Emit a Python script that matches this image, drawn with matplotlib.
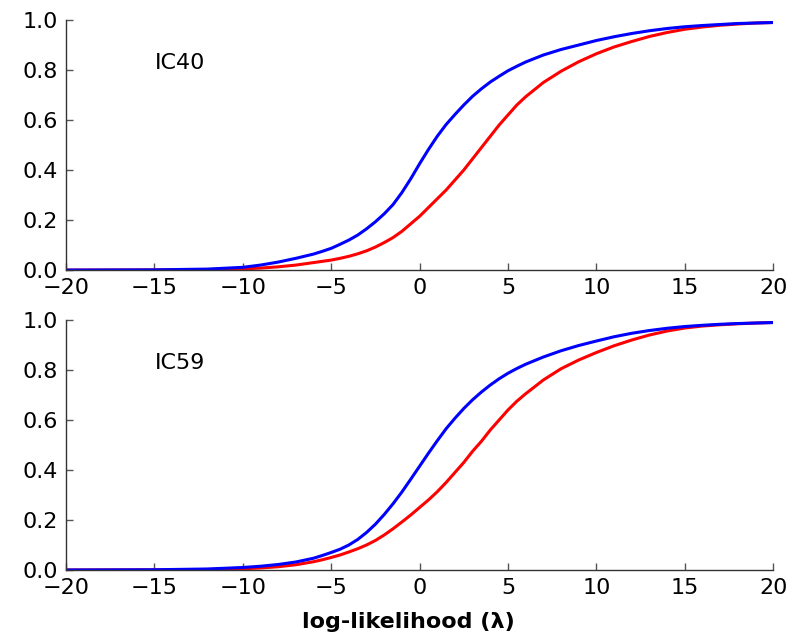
import matplotlib
matplotlib.use("Agg")
import matplotlib.pyplot as plt

# log-likelihood grid and cumulative fractions
lam = [-20, -15, -12, -10, -9, -8, -7,
       -6, -5.5, -5, -4.5, -4, -3.5, -3, -2.5, -2, -1.5, -1, -0.5,
       0, 0.5, 1, 1.5, 2, 2.5, 3, 3.5, 4, 4.5, 5, 5.5, 6,
       7, 8, 9, 10, 11, 12, 13, 14, 15, 16, 17, 18, 19, 20]

ic40_blue = [0.0, 0.001, 0.004, 0.011, 0.02, 0.032, 0.047,
             0.064, 0.075, 0.087, 0.103, 0.12, 0.14, 0.165, 0.193, 0.225, 0.262, 0.31, 0.365,
             0.425, 0.482, 0.535, 0.582, 0.622, 0.66, 0.695, 0.725, 0.752, 0.775, 0.797, 0.815, 0.832,
             0.86, 0.882, 0.90, 0.918, 0.933, 0.946, 0.957, 0.966, 0.973, 0.978, 0.982, 0.986, 0.988, 0.99]
ic40_red = [0.0, 0.0005, 0.002, 0.005, 0.008, 0.013, 0.02,
            0.03, 0.035, 0.04, 0.047, 0.055, 0.065, 0.077, 0.092, 0.11, 0.13, 0.155, 0.185,
            0.215, 0.25, 0.285, 0.32, 0.36, 0.40, 0.445, 0.49, 0.535, 0.58, 0.62, 0.66, 0.693,
            0.75, 0.795, 0.833, 0.865, 0.892, 0.914, 0.934, 0.95, 0.963, 0.972, 0.979, 0.984, 0.988, 0.99]

ic59_blue = [0.0, 0.001, 0.004, 0.01, 0.015, 0.022, 0.032,
             0.047, 0.058, 0.07, 0.083, 0.10, 0.122, 0.15, 0.183, 0.222, 0.265, 0.312, 0.363,
             0.415, 0.467, 0.517, 0.565, 0.607, 0.646, 0.681, 0.712, 0.74, 0.765, 0.787, 0.806, 0.823,
             0.852, 0.877, 0.898, 0.916, 0.933, 0.947, 0.958, 0.967, 0.974, 0.979, 0.983, 0.986, 0.988, 0.99]
ic59_red = [0.0, 0.0005, 0.002, 0.005, 0.008, 0.013, 0.021,
            0.033, 0.041, 0.05, 0.06, 0.072, 0.085, 0.10, 0.118, 0.14, 0.165, 0.192, 0.22,
            0.25, 0.28, 0.313, 0.35, 0.39, 0.43, 0.475, 0.515, 0.56, 0.60, 0.64, 0.675, 0.705,
            0.76, 0.805, 0.84, 0.87, 0.897, 0.92, 0.94, 0.956, 0.968, 0.976, 0.981, 0.985, 0.988, 0.99]

panels = [("IC40", ic40_red, ic40_blue), ("IC59", ic59_red, ic59_blue)]

fig = plt.figure(figsize=(8.02, 6.37), dpi=100)
boxes = [[0.0823, 0.576, 0.8817, 0.3926], [0.0823, 0.1052, 0.8817, 0.3924]]

for box, (name, red, blue) in zip(boxes, panels):
    ax = fig.add_axes(box)
    ax.plot(lam, red, color='#ff0000', lw=2.2, solid_joinstyle='round')
    ax.plot(lam, blue, color='#0000ff', lw=2.2, solid_joinstyle='round')
    ax.set_xlim(-20, 20)
    ax.set_ylim(0, 1)
    ax.set_xticks(range(-20, 21, 5))
    ax.set_yticks([0, 0.2, 0.4, 0.6, 0.8, 1.0])
    ax.set_yticklabels(['0.0', '0.2', '0.4', '0.6', '0.8', '1.0'])
    ax.spines['top'].set_visible(False)
    ax.spines['right'].set_visible(False)
    for s in ('left', 'bottom'):
        ax.spines[s].set_color('#333333')
        ax.spines[s].set_linewidth(1.0)
    ax.tick_params(direction='in', length=5, width=1, color='#555555',
                   labelsize=16, pad=6, top=False, right=False)
    ax.text(-15, 0.83, name, fontsize=16, ha='left', va='center')

fig.text(408 / 802, 1 - 622 / 637, 'log-likelihood (λ)', fontsize=16,
         fontweight='bold', ha='center', va='center')

fig.savefig('out.png', dpi=100)
